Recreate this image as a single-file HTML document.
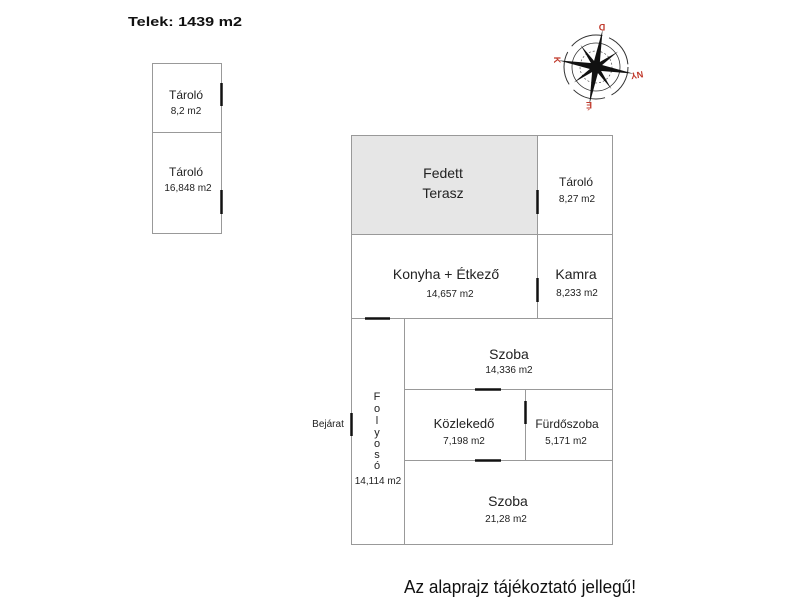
<!DOCTYPE html>
<html><head><meta charset="utf-8"><style>
html,body{margin:0;padding:0;background:#fff;}
svg{display:block;font-family:"Liberation Sans",sans-serif;}
</style></head><body>
<svg width="800" height="600" viewBox="0 0 800 600" xmlns="http://www.w3.org/2000/svg">
<rect width="800" height="600" fill="#fff"/>
<text x="128" y="26" font-size="13" font-weight="bold" fill="#111" textLength="114" lengthAdjust="spacingAndGlyphs">Telek: 1439 m2</text>
<g fill="none" stroke="#999" stroke-width="1">
<rect x="152.5" y="63.5" width="69" height="170"/>
<line x1="152" y1="132.5" x2="221" y2="132.5"/>
</g>
<g stroke="#111" stroke-width="2.5">
<line x1="221.5" y1="83" x2="221.5" y2="106"/>
<line x1="221.5" y1="190" x2="221.5" y2="214"/>
</g>
<g font-size="12" fill="#222" text-anchor="middle">
<text x="186" y="99">Tároló</text>
<text x="186" y="114" font-size="10">8,2 m2</text>
<text x="186" y="176">Tároló</text>
<text x="188" y="191" font-size="10">16,848 m2</text>
</g>
<rect x="351.5" y="135.5" width="186" height="99" fill="#e6e6e6"/>
<g fill="none" stroke="#999" stroke-width="1">
<rect x="351.5" y="135.5" width="261" height="409"/>
<line x1="537.5" y1="135" x2="537.5" y2="318"/>
<line x1="351" y1="234.5" x2="613" y2="234.5"/>
<line x1="351" y1="318.5" x2="613" y2="318.5"/>
<line x1="404.5" y1="318" x2="404.5" y2="545"/>
<line x1="404" y1="389.5" x2="613" y2="389.5"/>
<line x1="404" y1="460.5" x2="613" y2="460.5"/>
<line x1="525.5" y1="389" x2="525.5" y2="460"/>
</g>
<g stroke="#111" stroke-width="2.5">
<line x1="537.5" y1="190" x2="537.5" y2="214"/>
<line x1="537.5" y1="278" x2="537.5" y2="302"/>
<line x1="365" y1="318.5" x2="390" y2="318.5"/>
<line x1="475" y1="389.5" x2="501" y2="389.5"/>
<line x1="475" y1="460.5" x2="501" y2="460.5"/>
<line x1="525.5" y1="401" x2="525.5" y2="424"/>
<line x1="351.5" y1="413" x2="351.5" y2="436"/>
</g>
<g fill="#222" text-anchor="middle">
<text x="443" y="178" font-size="14">Fedett</text>
<text x="443" y="198" font-size="14">Terasz</text>
<text x="576" y="186" font-size="12">Tároló</text>
<text x="577" y="202" font-size="10">8,27 m2</text>
<text x="446" y="279" font-size="14">Konyha + Étkező</text>
<text x="450" y="297" font-size="10">14,657 m2</text>
<text x="576" y="279" font-size="14">Kamra</text>
<text x="577" y="296" font-size="10">8,233 m2</text>
<text x="509" y="359" font-size="14">Szoba</text>
<text x="509" y="373" font-size="10">14,336 m2</text>
<text x="464" y="428" font-size="13">Közlekedő</text>
<text x="464" y="444" font-size="10">7,198 m2</text>
<text x="567" y="428" font-size="12">Fürdőszoba</text>
<text x="566" y="444" font-size="10">5,171 m2</text>
<text x="508" y="506" font-size="14">Szoba</text>
<text x="506" y="522" font-size="10">21,28 m2</text>
<text x="378" y="484" font-size="10">14,114 m2</text>
<g font-size="11">
<text x="377" y="400">F</text>
<text x="377" y="412">o</text>
<text x="377" y="424">l</text>
<text x="377" y="436">y</text>
<text x="377" y="447">o</text>
<text x="377" y="458">s</text>
<text x="377" y="469">ó</text>
</g>
<text x="328" y="427" font-size="10">Bejárat</text>
</g>
<text x="404" y="593" font-size="18" fill="#111" textLength="232" lengthAdjust="spacingAndGlyphs">Az alaprajz tájékoztató jellegű!</text>
<g transform="translate(596,67)" fill="none" stroke="#333">
<circle r="32" stroke-width="1" stroke-dasharray="34 7"/>
<circle r="24" stroke-width="0.8"/>
<circle r="16" stroke-width="0.6" stroke-dasharray="2 2"/>
<g fill="#111" stroke="none">
<polygon points="0,-38 3.5,0 0,38 -3.5,0" transform="rotate(10)"/>
<polygon points="-38,0 0,3.5 38,0 0,-3.5" transform="rotate(10)"/>
<polygon points="0,-27 2.5,0 0,27 -2.5,0" transform="rotate(55)"/>
<polygon points="-27,0 0,2.5 27,0 0,-2.5" transform="rotate(55)"/>
</g>
</g>
<g fill="#c0392b" font-size="9" font-weight="bold" text-anchor="middle">
<text x="602" y="30" transform="rotate(180 602 27)">D</text>
<text x="557" y="63" transform="rotate(90 557 60)">K</text>
<text x="637" y="78" transform="rotate(170 637 75)">NY</text>
<text x="589" y="108" transform="rotate(180 589 105)">É</text>
</g>
</svg>
</body></html>
